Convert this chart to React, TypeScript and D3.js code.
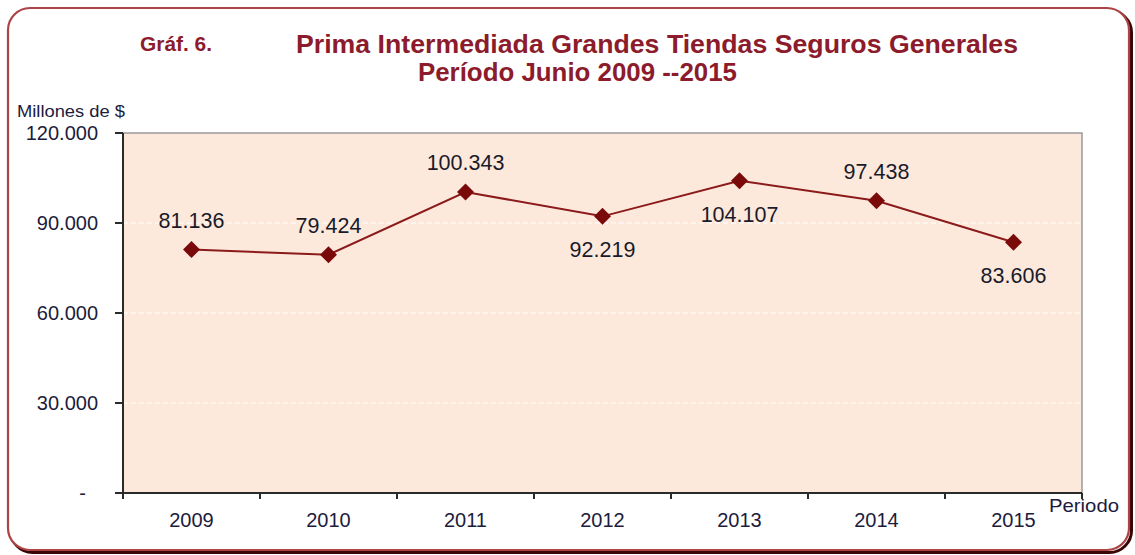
import React from "react";
import * as d3 from "d3";

const years = ["2009", "2010", "2011", "2012", "2013", "2014", "2015"];
const values = [81136, 79424, 100343, 92219, 104107, 97438, 83606];
const labelAbove = [true, true, true, false, false, true, false];
const yTicks = [0, 30000, 60000, 90000, 120000];
const yTickLabels = ["-", "30.000", "60.000", "90.000", "120.000"];
const titleLine1 = "Prima Intermediada Grandes Tiendas Seguros Generales";
const titleLine2 = "Período Junio 2009  --2015";
const chartTag = "Gráf. 6.";
const yAxisTitle = "Millones de $";
const xAxisTitle = "Periodo";

const fmt = (v: number) => d3.format(",")(v).replace(/,/g, ".");

export default function App() {
  const W = 1135, H = 555;
  const left = 123, right = 1082, top = 133, bottom = 493;
  const x = d3.scaleBand<string>().domain(years).range([left, right]).padding(0);
  const y = d3.scaleLinear().domain([0, 120000]).range([bottom, top]);
  const cx = (yr: string) => (x(yr) as number) + x.bandwidth() / 2;
  const line = d3.line<number>().x((_, i) => cx(years[i])).y((v) => y(v));
  const titleColor = "#8c1b2b";
  const textColor = "#1c1c3c";
  const markColor = "#7a0a0a";
  const diamond = (px: number, py: number, r: number) =>
    `M${px},${py - r}L${px + r},${py}L${px},${py + r}L${px - r},${py}Z`;

  return (
    <svg width={W} height={H} style={{ position: "absolute", left: 0, top: 0 }} fontFamily="'Liberation Sans', Arial, sans-serif">
      <rect x={0} y={0} width={W} height={H} fill="#fff" />
      {/* frame shadow */}
      <rect x={10.5} y={10.5} width={1121} height={542} rx={22} fill="none" stroke="#3a0505" strokeWidth={3} />
      <rect x={8} y={8} width={1121} height={542} rx={22} fill="#fff" stroke="#ac4446" strokeWidth={2.2} />

      {/* titles */}
      <text x={140} y={51} fontSize={20} fontWeight="bold" fill={titleColor} textLength={72} lengthAdjust="spacingAndGlyphs">{chartTag}</text>
      <text x={296} y={53} fontSize={25} fontWeight="bold" fill={titleColor} textLength={722} lengthAdjust="spacingAndGlyphs">{titleLine1}</text>
      <text x={418} y={81} fontSize={25} fontWeight="bold" fill={titleColor} textLength={319} lengthAdjust="spacingAndGlyphs">{titleLine2}</text>

      {/* plot area */}
      <rect x={left} y={top} width={right - left} height={bottom - top} fill="#fce9dc" stroke="#9a9a9a" strokeWidth={1.5} />
      {yTicks.filter((t) => t > 0 && t < 120000).map((t) => (
        <line key={t} x1={left} x2={right} y1={y(t)} y2={y(t)} stroke="#ffffff" strokeWidth={1} strokeDasharray="5,3" />
      ))}

      {/* axes */}
      <line x1={left} x2={left} y1={top} y2={bottom} stroke="#2a2a2a" strokeWidth={2} />
      <line x1={left} x2={right} y1={bottom} y2={bottom} stroke="#2a2a2a" strokeWidth={2} />
      {yTicks.map((t, i) => (
        <g key={t}>
          <line x1={left - 8} x2={left} y1={y(t)} y2={y(t)} stroke="#2a2a2a" strokeWidth={2} />
          <text x={i === 0 ? 86 : 98} y={y(t) + 7} fontSize={20} fill={textColor} textAnchor="end">{yTickLabels[i]}</text>
        </g>
      ))}
      {d3.range(years.length + 1).map((i) => {
        const xx = left + i * x.bandwidth();
        return <line key={i} x1={xx} x2={xx} y1={bottom} y2={bottom + 6} stroke="#2a2a2a" strokeWidth={2} />;
      })}
      {years.map((yr) => (
        <text key={yr} x={cx(yr)} y={527} fontSize={20} fill={textColor} textAnchor="middle">{yr}</text>
      ))}
      <text x={17} y={117} fontSize={16} fill={textColor} textLength={108} lengthAdjust="spacingAndGlyphs">{yAxisTitle}</text>
      <text x={1049} y={512} fontSize={19} fill={textColor} textLength={70} lengthAdjust="spacingAndGlyphs">{xAxisTitle}</text>

      {/* series */}
      <path d={line(values) || ""} fill="none" stroke="#8b1a1a" strokeWidth={2} />
      {values.map((v, i) => (
        <path key={i} d={diamond(cx(years[i]), y(v), 8.5)} fill={markColor} />
      ))}
      {values.map((v, i) => (
        <text key={i} x={cx(years[i])} y={labelAbove[i] ? y(v) - 22 : y(v) + 41} fontSize={21.5} fill="#1a1a2a" textAnchor="middle">{fmt(v)}</text>
      ))}
    </svg>
  );
}
